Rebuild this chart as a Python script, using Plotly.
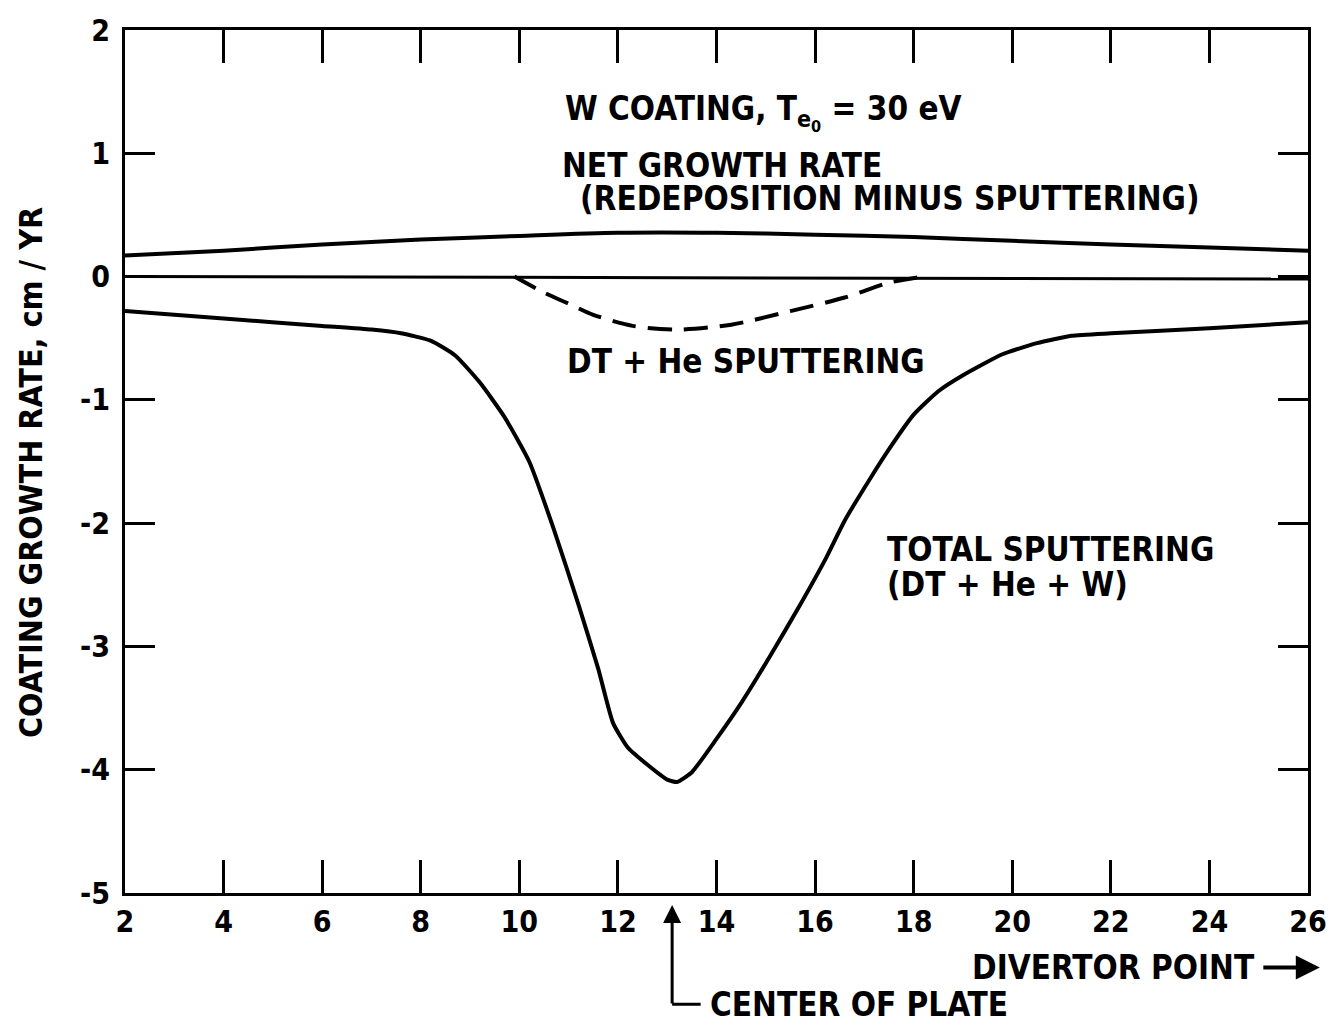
import plotly.graph_objects as go

# ---- data ----
x_ticks = [2, 4, 6, 8, 10, 12, 14, 16, 18, 20, 22, 24, 26]
x_ticktext = ["2", "4", "6", "8", "10", "12", "14", "16", "18", "20", "22", "24", "26"]
y_ticks = [2, 1, 0, -1, -2, -3, -4, -5]
y_ticktext = ["2", "1", "0", "-1", "-2", "-3", "-4", "-5"]

x_net = [2, 4, 6, 8, 10, 12, 14, 16, 18, 20, 22, 24, 26]
net_growth = [0.17, 0.21, 0.26, 0.30, 0.33, 0.355, 0.355, 0.34, 0.32, 0.29, 0.26, 0.235, 0.21]

x_zero = [2, 26]
zero_line = [0.0, -0.02]

x_dthe = [9.9, 10.5, 11.0, 11.5, 12.3, 13.2, 14.3, 15.5, 16.6, 17.5, 18.2]
dthe_sputter = [0.0, -0.13, -0.22, -0.31, -0.40, -0.43, -0.39, -0.28, -0.17, -0.05, 0.0]

x_total = [2, 4, 6, 7, 7.6, 8.2, 8.7, 9.2, 9.7, 10.2, 10.7, 11.2, 11.6, 11.9, 12.2, 12.6,
           13.0, 13.2, 13.5, 14.0, 14.5, 15.1, 15.7, 16.2, 16.6, 17.1, 17.5, 18.0, 18.5,
           19.0, 19.8, 20.5, 21.2, 22, 24, 26]
total_sputter = [-0.28, -0.34, -0.40, -0.43, -0.46, -0.52, -0.64, -0.86, -1.14, -1.50, -2.05,
                 -2.66, -3.18, -3.62, -3.82, -3.96, -4.08, -4.10, -4.02, -3.75, -3.46, -3.07,
                 -2.66, -2.30, -1.98, -1.65, -1.40, -1.12, -0.93, -0.80, -0.63, -0.54, -0.48,
                 -0.46, -0.42, -0.37]

center_of_plate = 13.1

FONT = "DejaVu Sans Condensed, Liberation Sans Narrow, DejaVu Sans, sans-serif"

fig = go.Figure()
fig.add_trace(go.Scatter(x=x_net, y=net_growth, mode="lines",
                         line=dict(color="black", width=4, shape="spline", smoothing=0.8)))
fig.add_trace(go.Scatter(x=x_zero, y=zero_line, mode="lines",
                         line=dict(color="black", width=3)))
fig.add_trace(go.Scatter(x=x_dthe, y=dthe_sputter, mode="lines",
                         line=dict(color="black", width=4, dash="24px,12px",
                                   shape="spline", smoothing=0.8)))
fig.add_trace(go.Scatter(x=x_total, y=total_sputter, mode="lines",
                         line=dict(color="black", width=4, shape="spline", smoothing=0.5)))

txt = dict(family=FONT, size=33, color="black")

anns = [
    dict(x=10.88, y=1.33, text="<b>W COATING, T<sub>e<sub>0</sub></sub> = 30 eV</b>"),
    dict(x=10.82, y=0.90, text="<b>NET GROWTH RATE</b>"),
    dict(x=11.2, y=0.63, text="<b>(REDEPOSITION MINUS SPUTTERING)</b>"),
    dict(x=10.92, y=-0.69, text="<b>DT + He SPUTTERING</b>"),
    dict(x=17.42, y=-2.21, text="<b>TOTAL SPUTTERING</b>"),
    dict(x=17.42, y=-2.50, text="<b>(DT + He + W)</b>"),
]
annotations = []
for a in anns:
    annotations.append(dict(xref="x", yref="y", xanchor="left", yanchor="middle",
                            showarrow=False, font=txt, **a))

# y axis title
annotations.append(dict(xref="paper", yref="paper", x=-0.080, y=0.487, textangle=-90,
                        text="<b>COATING GROWTH RATE, cm / YR</b>", showarrow=False,
                        xanchor="center", yanchor="middle",
                        font=dict(family=FONT, size=32, color="black")))
# x axis title with arrow
annotations.append(dict(xref="paper", yref="paper", x=0.957, y=-0.0864,
                        text="<b>DIVERTOR POINT</b>", showarrow=False,
                        xanchor="right", yanchor="middle", font=txt))
annotations.append(dict(xref="paper", yref="paper", x=1.010, y=-0.0864, ax=-58, ay=0,
                        text="", showarrow=True, arrowhead=2, arrowsize=1.2,
                        arrowwidth=4, arrowcolor="black"))
# center of plate arrow
annotations.append(dict(xref="x", yref="paper", x=center_of_plate, y=-0.014, ax=0, ay=100,
                        text="", showarrow=True, arrowhead=2, arrowsize=1.2,
                        arrowwidth=3, arrowcolor="black"))
annotations.append(dict(xref="x", yref="paper", x=center_of_plate, y=-0.129, ax=30, ay=0,
                        text="", showarrow=True, arrowhead=0, arrowwidth=3,
                        arrowcolor="black", startstandoff=0, standoff=0))
annotations.append(dict(xref="x", yref="paper", x=center_of_plate, y=-0.129, xshift=36,
                        text="<b>CENTER OF PLATE</b>", showarrow=False,
                        xanchor="left", yanchor="middle", font=txt))

tickfont = dict(family=FONT, size=30, color="black")
fig.update_layout(
    width=1343, height=1029,
    margin=dict(l=125, r=35, t=25, b=136),
    paper_bgcolor="white", plot_bgcolor="white",
    showlegend=False,
    annotations=annotations,
    xaxis=dict(range=[2, 26], tickvals=x_ticks,
               ticktext=["<b>%s</b>" % t for t in x_ticktext],
               ticks="inside", ticklen=33, tickwidth=3, tickcolor="black",
               mirror="allticks", showline=True, linewidth=3, linecolor="black",
               showgrid=False, zeroline=False, tickfont=tickfont),
    yaxis=dict(range=[-5, 2], tickvals=y_ticks,
               ticktext=["<b>%s</b>" % t for t in y_ticktext],
               ticks="inside", ticklen=30, tickwidth=3, tickcolor="black",
               mirror="allticks", showline=True, linewidth=3, linecolor="black",
               showgrid=False, zeroline=False, tickfont=tickfont,
               ticklabelstandoff=6),
)

fig.write_html("out.html", config={"displayModeBar": False},
               post_script="document.body.style.margin='0';")
